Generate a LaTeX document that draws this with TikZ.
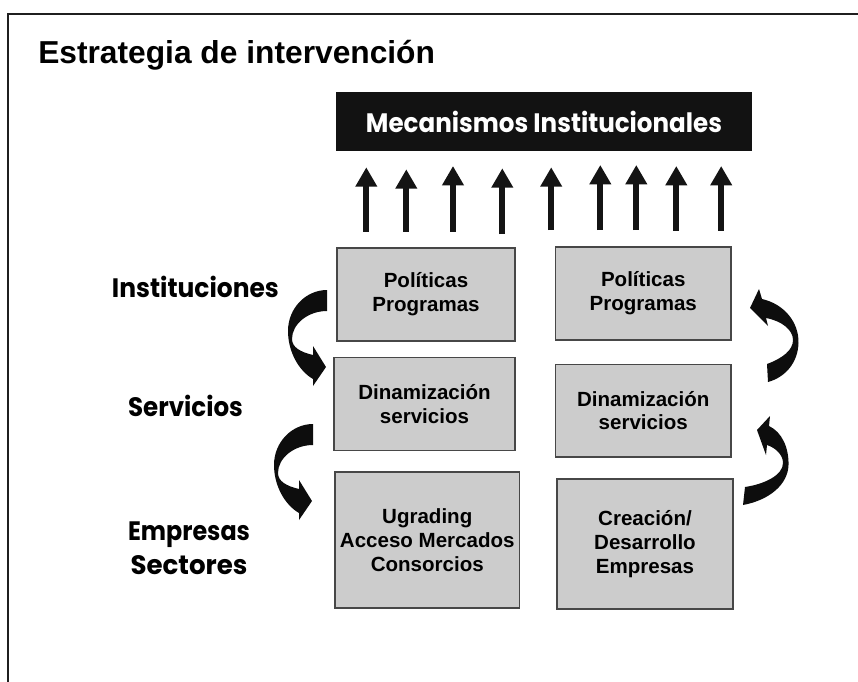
\documentclass[tikz,border=0pt]{standalone}
\usepackage{fontspec}
\usepackage{graphicx}
\setmainfont{Liberation Sans}
\newfontfamily\comicfont{Poppins}
\usetikzlibrary{arrows.meta}
\def\pxu{0.75pt}
\tikzset{
  greybox/.style={draw=black!72, line width=1.1pt, fill=black!20, inner sep=0pt, align=center,
    font=\fontsize{15.4pt}{17.8pt}\selectfont\bfseries},
  labtext/.style={font=\fontsize{20pt}{25.5pt}\selectfont\comicfont\bfseries, inner sep=0pt, align=center},
  uparrow/.style={line width=4.6pt, black!92, -{Triangle[width=15.5pt,length=14.5pt]}},
  curvefill/.style={fill=black!95},
  leftcurve/.pic={
    \fill[curvefill] (0,0) .. controls (-21,0) and (-39,18) .. (-39,41)
      .. controls (-39,62) and (-28,81) .. (-14,89) -- (-14,96) -- (-1,77) -- (-14,56) -- (-14,65)
      .. controls (-27,62) and (-35,57) .. (-35,49)
      .. controls (-35,34) and (-19,21) .. (0,21) -- cycle;
  }
}
\begin{document}
\begin{tikzpicture}[x=0.75pt,y=-0.75pt]
\useasboundingbox (0,0) rectangle (858,682);
% frame
\draw[line width=1.7pt, black!88] (8,682) -- (8,14) -- (858,14);
% title
\node[anchor=base west, inner sep=0pt, font=\fontsize{23.8pt}{28pt}\selectfont\bfseries] (title) at (38,63) {Estrategia de intervención};
% top black box
\node[fill=black!93, minimum width=416*\pxu, minimum height=59*\pxu, inner sep=0pt, text=white,
  font=\fontsize{20pt}{24pt}\selectfont\comicfont\bfseries] (mec) at (544,121.5)
  {\resizebox{267pt}{\height}{Mecanismos Institucionales}};
% up arrows
\foreach \xx/\yt/\yb [count=\i] in {366.3/167.3/231.7, 406.3/169.3/231.7, 453/166/231.7, 502.3/168.3/234,
   551.2/167.3/230, 600.3/165/230, 636.3/165/230, 676.3/166/230.7, 721.2/166/230.7}{
  \coordinate (ab\i) at (\xx,\yb);
  \coordinate (at\i) at (\xx,\yt);
  \draw[uparrow] (ab\i) -- (at\i);
}
% grey boxes
\node[greybox, minimum width=178*\pxu, minimum height=93*\pxu] (b1) at (426,294.5) {Políticas\\Programas};
\node[greybox, minimum width=181*\pxu, minimum height=93*\pxu] (b2) at (424.5,404) {Dinamización\\servicios};
\node[greybox, minimum width=184.5*\pxu, minimum height=136*\pxu] (b3) at (427.25,540) {Ugrading\\Acceso Mercados\\Consorcios};
\node[greybox, minimum width=175.5*\pxu, minimum height=93*\pxu] (b4) at (643.25,293.5) {Políticas\\Programas};
\node[greybox, minimum width=175.5*\pxu, minimum height=92.7*\pxu] (b5) at (643.25,410.6) {Dinamización\\servicios};
\node[greybox, minimum width=176*\pxu, minimum height=130*\pxu] (b6) at (645,544) {Creación/\\Desarrollo\\Empresas};
% left labels
\node[labtext, anchor=base] (linst) at (195.4,297.7) {\resizebox{125.2pt}{\height}{Instituciones}};
\node[labtext, anchor=base] (lserv) at (185.5,416.7) {\resizebox{86.2pt}{\height}{Servicios}};
\node[labtext, anchor=center] (lemp) at (189,548) {\resizebox{91.5pt}{\height}{Empresas}\\\resizebox{87.7pt}{\height}{Sectores}};
% curved arrows left
\pic at (327,290) {leftcurve};
\pic at (313,424) {leftcurve};
% curved arrows right
\fill[curvefill] (762,299) .. controls (784,304) and (799,322) .. (798.5,343)
  .. controls (798,362) and (786,377) .. (768,382) -- (767,364)
  .. controls (783,358) and (793,350) .. (793,340)
  .. controls (793,330) and (782,321) .. (766,318) -- (768,326) -- (750,308) -- (759,289) -- cycle;
\fill[curvefill] (769,426) .. controls (782,432) and (789,448) .. (788.5,465)
  .. controls (788,484) and (770,500) .. (743,505) -- (745,487)
  .. controls (765,484) and (783,475) .. (783,463)
  .. controls (783,455) and (776,448) .. (767,445) -- (766,455) -- (757,430) -- (770,416) -- cycle;
\end{tikzpicture}
\end{document}
